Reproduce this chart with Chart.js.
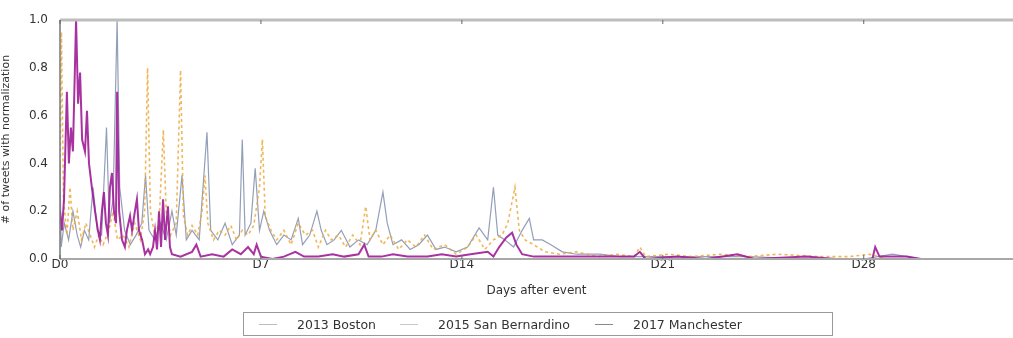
<!DOCTYPE html>
<html>
<head>
<meta charset="utf-8">
<script src="https://cdn.jsdelivr.net/npm/chart.js@4"></script>
<style>
  body { margin: 0; background: #fff; }
  #wrap { position: relative; width: 1013px; height: 338px; }
  #legend {
    position: absolute; left: 243px; top: 312px; width: 590px; height: 24px;
    border: 1px solid #9a9a9a; box-sizing: border-box;
    display: flex; align-items: center;
    font: 12.5px "DejaVu Sans", sans-serif; color: #333;
  }
  #legend .item { display: flex; align-items: center; white-space: nowrap; }
  #legend .swatch { display: inline-block; width: 18px; margin-right: 20px; border-top: 1px solid; }
</style>
</head>
<body>
<div id="wrap">
  <canvas id="chart" width="1013" height="338"></canvas>
  <div id="legend"></div>
</div>
<script>
// Tick positions (days after event)
const xTickValues = [0, 7, 14, 21, 28];
const yTickValues = [0, 0.2, 0.4, 0.6, 0.8, 1.0];

const seriesNames = ['2013 Boston', '2015 San Bernardino', '2017 Manchester'];

// 2013 Boston
const bostonDays = [0.00, 0.04, 0.15, 0.30, 0.45, 0.60, 0.72, 0.85, 1.00, 1.15, 1.30, 1.45, 1.62, 1.72, 1.85, 1.99, 2.08, 2.25, 2.45, 2.65,
  2.85, 2.98, 3.10, 3.30, 3.50, 3.70, 3.90, 4.05, 4.25, 4.40, 4.60, 4.85, 5.12, 5.25, 5.50, 5.75, 6.00, 6.25, 6.35, 6.45,
  6.65, 6.80, 6.95, 7.10, 7.30, 7.55, 7.80, 8.05, 8.30, 8.45, 8.70, 8.95, 9.10, 9.30, 9.55, 9.80, 10.10, 10.40, 10.70, 11.00,
  11.25, 11.40, 11.60, 11.90, 12.20, 12.50, 12.80, 13.10, 13.40, 13.80, 14.20, 14.60, 14.90, 15.10, 15.25, 15.50, 15.80, 16.10, 16.35, 16.50,
  16.80, 17.10, 17.50, 18.00, 18.80, 19.50, 20.50, 21.50, 22.50, 24.00, 26.00, 28.00, 29.00, 30.00];
const bostonVals = [0.40, 0.05, 0.15, 0.08, 0.20, 0.10, 0.05, 0.12, 0.08, 0.30, 0.12, 0.10, 0.55, 0.15, 0.25, 1.00, 0.30, 0.12, 0.06, 0.10,
  0.15, 0.35, 0.12, 0.08, 0.15, 0.08, 0.20, 0.10, 0.35, 0.08, 0.12, 0.08, 0.53, 0.12, 0.08, 0.15, 0.06, 0.10, 0.50, 0.10,
  0.15, 0.38, 0.12, 0.20, 0.12, 0.06, 0.10, 0.08, 0.17, 0.06, 0.10, 0.20, 0.12, 0.06, 0.08, 0.12, 0.05, 0.08, 0.06, 0.12,
  0.28, 0.15, 0.06, 0.08, 0.04, 0.06, 0.10, 0.04, 0.05, 0.03, 0.05, 0.13, 0.08, 0.30, 0.10, 0.08, 0.05, 0.12, 0.17, 0.08,
  0.08, 0.06, 0.03, 0.02, 0.02, 0.01, 0.01, 0.01, 0.01, 0.01, 0.00, 0.00, 0.02, 0.00];

// 2015 San Bernardino
const sanBernardinoDays = [0.00, 0.05, 0.12, 0.24, 0.35, 0.45, 0.60, 0.75, 0.90, 1.05, 1.20, 1.35, 1.50, 1.70, 1.85, 2.00, 2.20, 2.40, 2.60, 2.80,
  2.95, 3.05, 3.15, 3.30, 3.45, 3.60, 3.70, 3.85, 4.05, 4.20, 4.30, 4.45, 4.60, 4.80, 4.95, 5.05, 5.15, 5.35, 5.55, 5.75,
  5.95, 6.15, 6.35, 6.55, 6.75, 6.95, 7.05, 7.15, 7.35, 7.55, 7.80, 8.05, 8.30, 8.55, 8.80, 9.00, 9.25, 9.45, 9.70, 9.95,
  10.20, 10.45, 10.65, 10.80, 11.00, 11.25, 11.50, 11.80, 12.10, 12.40, 12.70, 13.00, 13.40, 13.80, 14.20, 14.50, 14.80, 15.10, 15.40, 15.60,
  15.85, 16.00, 16.20, 16.50, 16.90, 17.40, 18.00, 18.70, 19.40, 20.00, 20.20, 20.40, 21.20, 22.00, 23.00, 24.00, 25.00, 26.50, 27.50, 28.20,
  28.80, 30.00];
const sanBernardinoVals = [0.30, 0.95, 0.25, 0.10, 0.30, 0.12, 0.20, 0.08, 0.15, 0.10, 0.05, 0.10, 0.06, 0.12, 0.20, 0.08, 0.10, 0.05, 0.15, 0.08,
  0.20, 0.80, 0.20, 0.10, 0.15, 0.54, 0.20, 0.10, 0.15, 0.79, 0.18, 0.10, 0.14, 0.10, 0.20, 0.35, 0.15, 0.08, 0.12, 0.10,
  0.14, 0.08, 0.12, 0.10, 0.14, 0.30, 0.50, 0.18, 0.12, 0.08, 0.12, 0.06, 0.15, 0.10, 0.12, 0.05, 0.12, 0.08, 0.10, 0.05,
  0.10, 0.06, 0.22, 0.08, 0.12, 0.06, 0.10, 0.04, 0.08, 0.05, 0.10, 0.04, 0.06, 0.02, 0.05, 0.10, 0.04, 0.08, 0.10, 0.15,
  0.30, 0.12, 0.08, 0.06, 0.03, 0.02, 0.03, 0.01, 0.02, 0.01, 0.05, 0.01, 0.02, 0.01, 0.02, 0.01, 0.02, 0.01, 0.01, 0.02,
  0.00, 0.00];

// 2017 Manchester
const manchesterDays = [0.00, 0.07, 0.14, 0.24, 0.31, 0.38, 0.45, 0.56, 0.63, 0.70, 0.77, 0.87, 0.94, 1.01, 1.11, 1.22, 1.32, 1.39, 1.46, 1.53,
  1.60, 1.67, 1.74, 1.81, 1.88, 1.95, 1.99, 2.06, 2.16, 2.26, 2.33, 2.44, 2.51, 2.61, 2.68, 2.75, 2.86, 2.96, 3.07, 3.14,
  3.24, 3.31, 3.38, 3.45, 3.52, 3.59, 3.66, 3.76, 3.83, 3.90, 4.20, 4.60, 4.75, 4.90, 5.30, 5.70, 6.00, 6.30, 6.55, 6.75,
  6.85, 7.00, 7.40, 7.80, 8.20, 8.50, 9.00, 9.50, 9.90, 10.40, 10.60, 10.75, 11.20, 11.60, 12.10, 12.80, 13.30, 13.80, 14.30, 14.90,
  15.10, 15.30, 15.55, 15.75, 15.90, 16.10, 16.50, 17.00, 18.00, 19.00, 20.00, 20.20, 20.40, 21.50, 22.50, 23.60, 24.20, 26.00, 27.00, 28.30,
  28.40, 28.55, 29.50, 30.00];
const manchesterVals = [0.20, 0.12, 0.25, 0.70, 0.40, 0.55, 0.45, 1.00, 0.65, 0.78, 0.50, 0.45, 0.62, 0.40, 0.30, 0.20, 0.12, 0.08, 0.20, 0.28,
  0.15, 0.10, 0.30, 0.36, 0.20, 0.15, 0.70, 0.20, 0.08, 0.05, 0.12, 0.18, 0.12, 0.20, 0.25, 0.12, 0.08, 0.02, 0.04, 0.02,
  0.05, 0.12, 0.04, 0.20, 0.05, 0.25, 0.08, 0.22, 0.05, 0.02, 0.01, 0.03, 0.06, 0.01, 0.02, 0.01, 0.04, 0.02, 0.05, 0.02,
  0.06, 0.01, 0.00, 0.01, 0.03, 0.01, 0.01, 0.02, 0.01, 0.02, 0.06, 0.01, 0.01, 0.02, 0.01, 0.01, 0.02, 0.01, 0.02, 0.03,
  0.01, 0.05, 0.09, 0.11, 0.06, 0.02, 0.01, 0.01, 0.01, 0.01, 0.01, 0.03, 0.00, 0.01, 0.00, 0.02, 0.00, 0.01, 0.00, 0.00,
  0.05, 0.01, 0.01, 0.00];

const FONT = '"DejaVu Sans", sans-serif';

function toPoints(days, vals) {
  return days.map((d, i) => ({ x: d, y: vals[i] }));
}

const datasets = [
  {
    label: seriesNames[0],
    data: toPoints(bostonDays, bostonVals),
    borderColor: 'rgba(135, 148, 176, 0.9)',
    borderWidth: 1.2,
    order: 2
  },
  {
    label: seriesNames[1],
    data: toPoints(sanBernardinoDays, sanBernardinoVals),
    borderColor: 'rgba(236, 170, 60, 0.85)',
    borderWidth: 1.6,
    borderDash: [3, 3],
    order: 1
  },
  {
    label: seriesNames[2],
    data: toPoints(manchesterDays, manchesterVals),
    borderColor: 'rgba(158, 28, 150, 0.9)',
    borderWidth: 2,
    order: 0
  }
];

// Axes frame: thick top rule, bottom and left axis lines, small tick marks
const framePlugin = {
  id: 'frame',
  afterDatasetsDraw(chart) {
    const { ctx, chartArea: a, scales } = chart;
    ctx.save();
    ctx.strokeStyle = '#bdbdbd';
    ctx.lineWidth = 3;
    ctx.beginPath();
    ctx.moveTo(a.left, a.top);
    ctx.lineTo(a.right, a.top);
    ctx.stroke();

    ctx.strokeStyle = '#a8a8a8';
    ctx.lineWidth = 2;
    ctx.beginPath();
    ctx.moveTo(a.left, a.bottom);
    ctx.lineTo(a.right, a.bottom);
    ctx.stroke();

    ctx.strokeStyle = '#777';
    ctx.lineWidth = 1.5;
    ctx.beginPath();
    ctx.moveTo(a.left, a.top);
    ctx.lineTo(a.left, a.bottom);
    ctx.stroke();

    ctx.strokeStyle = '#666';
    ctx.lineWidth = 1;
    xTickValues.forEach(v => {
      const px = scales.x.getPixelForValue(v);
      ctx.beginPath();
      ctx.moveTo(px, a.top);
      ctx.lineTo(px, a.top + 4);
      ctx.moveTo(px, a.bottom);
      ctx.lineTo(px, a.bottom - 4);
      ctx.stroke();
    });
    ctx.restore();
  }
};

const chart = new Chart(document.getElementById('chart'), {
  type: 'line',
  data: { datasets: datasets },
  options: {
    responsive: false,
    animation: false,
    elements: { point: { radius: 0 }, line: { tension: 0 } },
    layout: { padding: { top: 20, right: 0, bottom: 34, left: 0 } },
    plugins: {
      legend: { display: false },
      tooltip: { enabled: false }
    },
    scales: {
      x: {
        type: 'linear',
        min: 0,
        max: 33.2,
        grid: { display: false, drawTicks: false },
        border: { display: false },
        afterBuildTicks: scale => { scale.ticks = xTickValues.map(v => ({ value: v })); },
        afterFit: scale => { scale.height = 45; },
        ticks: {
          autoSkip: false,
          maxRotation: 0,
          padding: -1,
          color: '#333',
          font: { family: FONT, size: 12 },
          callback: v => 'D' + v
        },
        title: {
          display: true,
          text: 'Days after event',
          color: '#333',
          font: { family: FONT, size: 12 },
          padding: { top: 0, bottom: 6 }
        }
      },
      y: {
        min: 0,
        max: 1,
        grid: { display: false },
        border: { display: false },
        afterBuildTicks: scale => { scale.ticks = yTickValues.map(v => ({ value: v })); },
        afterFit: scale => { scale.width = 60; },
        ticks: {
          padding: 4,
          color: '#333',
          font: { family: FONT, size: 12 },
          callback: v => Number(v).toFixed(1)
        },
        title: {
          display: true,
          text: '# of tweets with normalization',
          color: '#333',
          font: { family: FONT, size: 11 },
          padding: { top: 0, bottom: 2 }
        }
      }
    }
  },
  plugins: [framePlugin]
});

// HTML legend in a box under the axes
const legendEl = document.getElementById('legend');
const legendPos = [15, 156, 351];
datasets.forEach((ds, i) => {
  const item = document.createElement('span');
  item.className = 'item';
  item.style.position = 'absolute';
  item.style.left = legendPos[i] + 'px';
  const sw = document.createElement('span');
  sw.className = 'swatch';
  sw.style.borderTopColor = ['#b8bcc4', '#c8c8c8', '#888'][i];
  const label = document.createElement('span');
  label.textContent = ds.label;
  item.appendChild(sw);
  item.appendChild(label);
  legendEl.appendChild(item);
});
</script>
</body>
</html>
